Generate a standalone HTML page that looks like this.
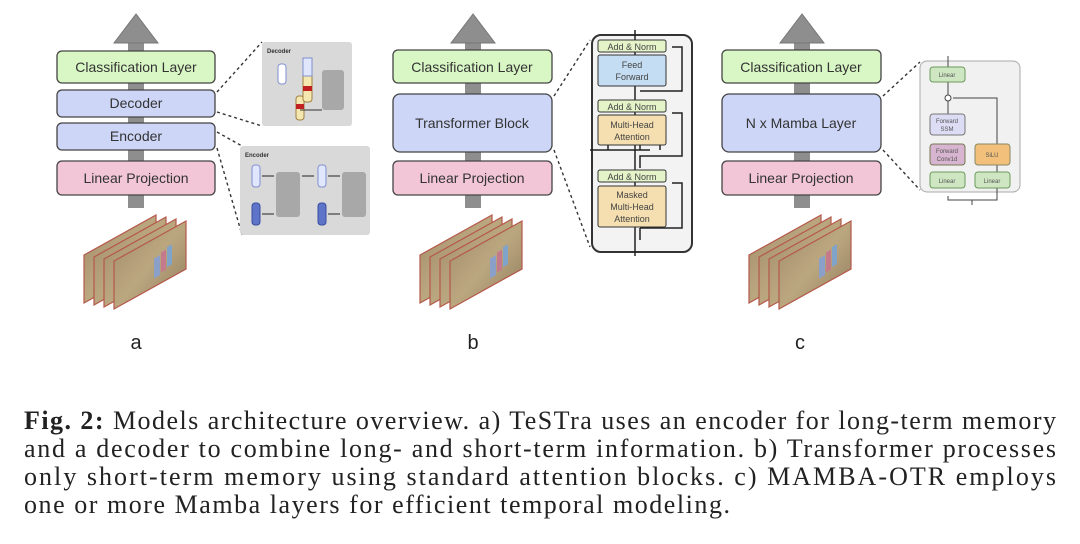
<!DOCTYPE html>
<html><head><meta charset="utf-8"><style>
html,body{margin:0;padding:0;background:#fff;}
svg{display:block;}
.bt{font-family:"Liberation Sans",sans-serif;font-size:14px;fill:#333;text-anchor:middle;}
.cap{font-family:"Liberation Serif",serif;font-size:26px;fill:#222;}
.lab{font-family:"Liberation Sans",sans-serif;font-size:20px;fill:#222;text-anchor:middle;}
</style></head><body>
<svg width="1080" height="544" viewBox="0 0 1080 544" xmlns="http://www.w3.org/2000/svg">
<defs>
<g id="arrow">
<rect x="-8" y="38" width="16" height="170" fill="#8e8e8e"/>
<polygon points="0,14 -22,43 22,43" fill="#8e8e8e" stroke="#777" stroke-width="1"/>
</g>
<linearGradient id="fr" x1="0" y1="0" x2="1" y2="1">
<stop offset="0" stop-color="#a08a6a"/><stop offset="0.5" stop-color="#bba77f"/><stop offset="1" stop-color="#8f7a5c"/>
</linearGradient>
<g id="frames">
<g stroke="#b5584a" stroke-width="1.2" fill="url(#fr)">
<polygon points="0,40 72,0 72,48 0,88"/>
<polygon points="10,42 82,2 82,50 10,90"/>
<polygon points="20,44 92,4 92,52 20,92"/>
<polygon points="30,46 102,6 102,54 30,94"/>
</g>
<rect x="70" y="44" width="6" height="20" fill="#8aa0c8" transform="skewY(-30) translate(0,40)"/>
<rect x="77" y="42" width="5" height="20" fill="#c47a8a" transform="skewY(-30) translate(0,40)"/>
<rect x="83" y="40" width="5" height="20" fill="#7fa3c9" transform="skewY(-30) translate(0,40)"/>
</g>
</defs>

<!-- column a -->
<use href="#arrow" x="136" y="0"/>
<rect x="57" y="51" width="158" height="32" rx="5" fill="#d9f7c5" stroke="#444" stroke-width="1.3"/>
<text class="bt" x="136" y="72">Classification Layer</text>
<rect x="57" y="90" width="158" height="27" rx="5" fill="#cdd6f7" stroke="#444" stroke-width="1.3"/>
<text class="bt" x="136" y="108">Decoder</text>
<rect x="57" y="123" width="158" height="27" rx="5" fill="#cdd6f7" stroke="#444" stroke-width="1.3"/>
<text class="bt" x="136" y="141">Encoder</text>
<rect x="57" y="161" width="158" height="34" rx="5" fill="#f2c6d6" stroke="#444" stroke-width="1.3"/>
<text class="bt" x="136" y="183">Linear Projection</text>
<use href="#frames" x="84" y="215"/>
<text class="lab" x="136" y="349">a</text>
<g stroke="#333" stroke-width="1.4" stroke-dasharray="3,3" fill="none">
<line x1="217" y1="92" x2="262" y2="42"/><line x1="217" y1="112" x2="262" y2="126"/>
<line x1="217" y1="132" x2="242" y2="146"/><line x1="217" y1="148" x2="242" y2="235"/>
</g>
<rect x="262" y="42" width="90" height="84" rx="3" fill="#d9d9d9"/>
<text x="267" y="53" font-family="Liberation Sans" font-size="6" font-weight="bold" fill="#333">Decoder</text>
<rect x="278" y="64" width="8" height="20" rx="3" fill="#fff" stroke="#8090d0"/>
<rect x="296" y="96" width="8" height="24" rx="3" fill="#f5e7b0" stroke="#a08040"/>
<rect x="296" y="104" width="8" height="5" fill="#c02020"/>
<rect x="303" y="58" width="9" height="44" rx="3" fill="#f5e7b0" stroke="#a08040"/>
<rect x="303" y="58" width="9" height="18" fill="#e0e6fb" stroke="#8090d0"/>
<rect x="303" y="86" width="9" height="5" fill="#c02020"/>
<rect x="322" y="70" width="22" height="40" rx="3" fill="#a8a8a8"/>
<line x1="300" y1="110" x2="322" y2="110" stroke="#333"/>
<rect x="240" y="146" width="130" height="89" rx="3" fill="#d9d9d9"/>
<text x="245" y="157" font-family="Liberation Sans" font-size="6" font-weight="bold" fill="#333">Encoder</text>
<rect x="252" y="165" width="8" height="22" rx="3" fill="#e0e6fb" stroke="#8090d0"/>
<rect x="252" y="203" width="8" height="22" rx="3" fill="#5d74c8" stroke="#3a4ea0"/>
<rect x="276" y="172" width="24" height="45" rx="3" fill="#a8a8a8"/>
<rect x="318" y="165" width="8" height="22" rx="3" fill="#e0e6fb" stroke="#8090d0"/>
<rect x="318" y="203" width="8" height="22" rx="3" fill="#5d74c8" stroke="#3a4ea0"/>
<rect x="342" y="172" width="24" height="45" rx="3" fill="#a8a8a8"/>
<g stroke="#222" stroke-width="1"><line x1="262" y1="176" x2="274" y2="176"/><line x1="262" y1="214" x2="274" y2="214"/><line x1="328" y1="176" x2="340" y2="176"/><line x1="328" y1="214" x2="340" y2="214"/><line x1="302" y1="176" x2="314" y2="176"/></g>

<!-- column b -->
<use href="#arrow" x="473" y="0"/>
<rect x="393" y="50" width="159" height="33" rx="5" fill="#d9f7c5" stroke="#444" stroke-width="1.3"/>
<text class="bt" x="472" y="72">Classification Layer</text>
<rect x="393" y="94" width="159" height="58" rx="7" fill="#cdd6f7" stroke="#444" stroke-width="1.3"/>
<text class="bt" x="472" y="128">Transformer Block</text>
<rect x="393" y="161" width="159" height="34" rx="5" fill="#f2c6d6" stroke="#444" stroke-width="1.3"/>
<text class="bt" x="472" y="183">Linear Projection</text>
<use href="#frames" x="420" y="215"/>
<text class="lab" x="473" y="349">b</text>
<g stroke="#333" stroke-width="1.4" stroke-dasharray="3,3" fill="none">
<line x1="554" y1="96" x2="590" y2="40"/><line x1="554" y1="150" x2="590" y2="247"/>
</g>
<rect x="592" y="35" width="100" height="217" rx="9" fill="#f3f3f3" stroke="#333" stroke-width="2"/>
<g stroke="#222" stroke-width="1.5" fill="none">
<line x1="635" y1="30" x2="635" y2="256"/>
<path d="M640 240 V228 M640 228 H682 V183 H672 M640 168 V156 H682 V113 H672 M640 91 H682 V47 H672"/>
<path d="M590 150 H650 M608 150 V144 M640 150 V144 M660 150 V144"/>
</g>
<g font-family="Liberation Sans" font-size="9" fill="#444" text-anchor="middle">
<rect x="598" y="40" width="68" height="12" rx="2" fill="#e4f3c8" stroke="#333"/><text x="632" y="50">Add &amp; Norm</text>
<rect x="598" y="55" width="68" height="31" rx="2" fill="#c4ddf2" stroke="#333"/><text x="632" y="68">Feed</text><text x="632" y="80">Forward</text>
<rect x="598" y="100" width="68" height="12" rx="2" fill="#e4f3c8" stroke="#333"/><text x="632" y="110">Add &amp; Norm</text>
<rect x="598" y="115" width="68" height="30" rx="2" fill="#f5dfb0" stroke="#333"/><text x="632" y="128">Multi-Head</text><text x="632" y="140">Attention</text>
<rect x="598" y="170" width="68" height="12" rx="2" fill="#e4f3c8" stroke="#333"/><text x="632" y="180">Add &amp; Norm</text>
<rect x="598" y="186" width="68" height="41" rx="2" fill="#f5dfb0" stroke="#333"/><text x="632" y="198">Masked</text><text x="632" y="210">Multi-Head</text><text x="632" y="222">Attention</text>
</g>

<!-- column c -->
<use href="#arrow" x="802" y="0"/>
<rect x="722" y="50" width="159" height="33" rx="5" fill="#d9f7c5" stroke="#444" stroke-width="1.3"/>
<text class="bt" x="801" y="72">Classification Layer</text>
<rect x="722" y="94" width="159" height="58" rx="7" fill="#cdd6f7" stroke="#444" stroke-width="1.3"/>
<text class="bt" x="801" y="128">N x Mamba Layer</text>
<rect x="722" y="161" width="159" height="34" rx="5" fill="#f2c6d6" stroke="#444" stroke-width="1.3"/>
<text class="bt" x="801" y="183">Linear Projection</text>
<use href="#frames" x="749" y="215"/>
<text class="lab" x="800" y="349">c</text>
<g stroke="#333" stroke-width="1.4" stroke-dasharray="3,3" fill="none">
<line x1="883" y1="96" x2="920" y2="62"/><line x1="883" y1="150" x2="920" y2="190"/>
</g>
<rect x="920" y="61" width="100" height="131" rx="7" fill="#f1f1f1" stroke="#aaa"/>
<g stroke="#444" stroke-width="1" fill="none">
<path d="M948 56 V67 M948 82 V133 M997 172 V98 H953 M948 196 V200 H997 V188 M972 200 V205"/>
<circle cx="948" cy="98" r="3" fill="#fff"/>
</g>
<g font-family="Liberation Sans" font-size="6" fill="#555" text-anchor="middle">
<rect x="930" y="67" width="35" height="15" rx="3" fill="#cfe6c2" stroke="#6a9a5a"/><text x="947" y="77">Linear</text>
<rect x="930" y="114" width="35" height="21" rx="3" fill="#dcdcf5" stroke="#777"/><text x="947" y="123">Forward</text><text x="947" y="131">SSM</text>
<rect x="930" y="144" width="35" height="21" rx="3" fill="#d7b4cf" stroke="#775"/><text x="947" y="153">Forward</text><text x="947" y="161">Conv1d</text>
<rect x="975" y="144" width="35" height="21" rx="3" fill="#f2c07a" stroke="#886"/><text x="992" y="157">SiLU</text>
<rect x="930" y="172" width="35" height="16" rx="3" fill="#cfe6c2" stroke="#6a9a5a"/><text x="947" y="183">Linear</text>
<rect x="975" y="172" width="35" height="16" rx="3" fill="#cfe6c2" stroke="#6a9a5a"/><text x="992" y="183">Linear</text>
</g>

<!-- caption -->
<text class="cap" x="24" y="429" textLength="1032" lengthAdjust="spacing"><tspan font-weight="bold">Fig. 2:</tspan> Models architecture overview. a) TeSTra uses an encoder for long-term memory</text>
<text class="cap" x="24" y="457" textLength="1032" lengthAdjust="spacing">and a decoder to combine long- and short-term information. b) Transformer processes</text>
<text class="cap" x="24" y="485" textLength="1032" lengthAdjust="spacing">only short-term memory using standard attention blocks. c) MAMBA-OTR employs</text>
<text class="cap" x="24" y="513" textLength="706" lengthAdjust="spacing">one or more Mamba layers for efficient temporal modeling.</text>
</svg>
</body></html>
